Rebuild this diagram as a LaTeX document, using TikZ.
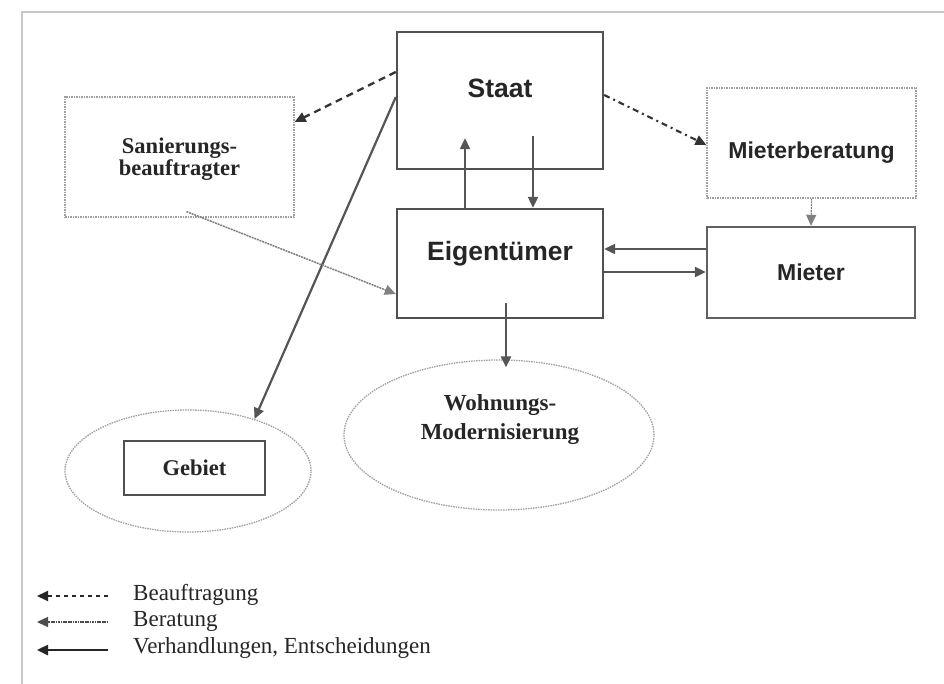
\documentclass[tikz,border=0pt]{standalone}
\usepackage{fontspec}
\setmainfont{Liberation Serif}
\newfontfamily\arialfont{Liberation Sans}
\usetikzlibrary{arrows.meta,shapes.geometric}
\definecolor{framegray}{HTML}{C8C8C8}
\definecolor{boxgray}{HTML}{505050}
\definecolor{lightgray}{HTML}{A0A0A0}
\definecolor{linegray}{HTML}{555555}
\definecolor{darkline}{HTML}{333333}
\tikzset{
  solidbox/.style={draw=boxgray, line width=2.4pt, rectangle, inner sep=0pt, fill=white},
  dotbox/.style={draw=lightgray, line width=1.2pt, dash pattern=on 1.5pt off 1pt, rectangle, inner sep=0pt},
  dotellipse/.style={draw=lightgray, line width=1.3pt, dash pattern=on 1.5pt off 1pt, ellipse, inner sep=0pt},
  sanslabel/.style={font=\arialfont\bfseries\fontsize{26.5}{30}\selectfont, text=black!85},
  sanslabelsm/.style={font=\arialfont\bfseries\fontsize{23}{27}\selectfont, text=black!85},
  seriflabel/.style={font=\bfseries\fontsize{22.5}{23.5}\selectfont, text=black!85, align=center},
  tip/.style={-{Triangle[length=11pt,width=10pt]}},
  beauf/.style={tip, draw=darkline, line width=2.3pt, dash pattern=on 7pt off 5pt},
  dashdot/.style={tip, draw=darkline, line width=2.1pt, dash pattern=on 6pt off 4pt on 2pt off 4pt},
  berat/.style={tip, draw=lightgray!80!black, line width=1.5pt, dash pattern=on 2pt off 0.8pt},
  verh/.style={tip, draw=linegray, line width=2.2pt},
  legtext/.style={font=\fontsize{23}{26}\selectfont, anchor=west, inner sep=0pt, text=black!85}
}
\begin{document}
\begin{tikzpicture}[x=1pt,y=-1pt]
\useasboundingbox (0,0) rectangle (944,684);
\fill[white] (0,0) rectangle (944,684);
% frame
\draw[framegray, line width=2pt] (944,12) -- (22,12) -- (22,684);

% boxes
\node[solidbox, minimum width=206pt, minimum height=137pt, sanslabel] (staat) at (500,100.5) {\raisebox{12.5pt}[\height][\depth]{Staat}};
\node[solidbox, minimum width=206pt, minimum height=109pt, sanslabel] (eig) at (500,263.5) {\raisebox{10pt}[\height][\depth]{Eigentümer}};
\node[dotbox, minimum width=229pt, minimum height=120pt, seriflabel] (san) at (179.5,157) {\raisebox{-3pt}[\height][\depth]{\begin{tabular}{@{}c@{}}Sanierungs-\\[-1pt]beauftragter\end{tabular}}};
\node[dotbox, minimum width=209pt, minimum height=110pt, sanslabelsm] (mb) at (811.5,143) {\raisebox{-10pt}[\height][\depth]{Mieterberatung}};
\node[solidbox, draw=boxgray!90, minimum width=208pt, minimum height=91pt, sanslabelsm] (mieter) at (811,272.5) {Mieter};

% ellipses
\node[dotellipse, minimum width=246pt, minimum height=122pt] (gebell) at (188,471) {};
\node[solidbox, minimum width=141pt, minimum height=54pt, seriflabel] (gebiet) at (194.5,468) {Gebiet};
\node[dotellipse, minimum width=310pt, minimum height=150pt] (wohnell) at (499,435) {};
\node[seriflabel, font=\bfseries\fontsize{23}{29}\selectfont, inner sep=0pt] (wohntext) at (500,420) {Wohnungs-\\Modernisierung};

% connectors
\draw[beauf] (staat.west |- 0,72) -- (san.east |- 0,122);
\draw[dashdot] (staat.east |- 0,95) -- (mb.west |- 0,145);
\draw[verh] (staat.west |- 0,97) -- (gebell.38);
\draw[verh] ([xshift=-35pt]eig.north) -- ([xshift=-35pt,yshift=32pt]staat.south);
\draw[verh] ([xshift=33pt,yshift=34pt]staat.south) -- ([xshift=33pt]eig.north);
\draw[verh] (mieter.west |- 0,249) -- (eig.east |- 0,249);
\draw[verh] (eig.east |- 0,272) -- (mieter.west |- 0,272);
\draw[berat, line width=1.1pt] (mb.south) -- (mieter.north);
\draw[berat] ([xshift=7pt,yshift=6pt]san.south) -- (eig.west |- 0,294);
\draw[verh] ([xshift=6pt,yshift=16pt]eig.south) -- ([xshift=7pt,yshift=-8pt]wohnell.north);

% legend
\coordinate (l1a) at (108,596);
\coordinate (l1b) at (37,596);
\coordinate (l2a) at (108,622);
\coordinate (l2b) at (37,622);
\coordinate (l3a) at (108,650);
\coordinate (l3b) at (37,650);
\draw[beauf, draw=black!85, line width=1.8pt, dash pattern=on 4pt off 4pt] (l1a) -- (l1b);
\draw[berat, draw=black!70, line width=1.3pt, dash pattern=on 1.2pt off 0.5pt] (l2a) -- (l2b);
\draw[verh, draw=black!85, line width=2.4pt] (l3a) -- (l3b);
\node[legtext] (t1) at (133,595) {Beauftragung};
\node[legtext] (t2) at (133,621) {Beratung};
\node[legtext] (t3) at (133,648) {Verhandlungen, Entscheidungen};
\end{tikzpicture}
\end{document}
